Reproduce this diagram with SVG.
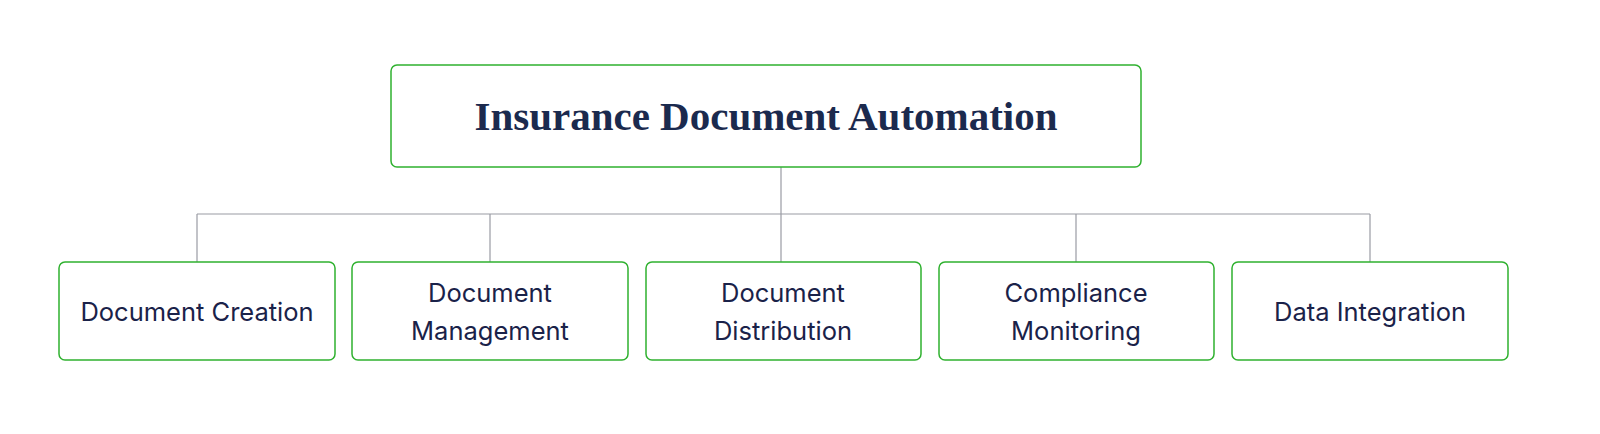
<svg xmlns="http://www.w3.org/2000/svg" width="1600" height="434" viewBox="0 0 1600 434">
<style>
.box{fill:#fff;stroke:#2fb12f;stroke-width:1.5}
.t{font-family:Inter,"Noto Sans",sans-serif;font-size:25.5px;fill:#1a2249;text-anchor:middle}
.title{font-family:"Liberation Serif",serif;font-weight:bold;font-size:41px;fill:#1b2a4e;text-anchor:middle}
.c{stroke:#9a9ca4;stroke-width:1.2;fill:none}
</style>
<rect width="1600" height="434" fill="#fff"/>
<g id="connectors">
<path class="c" d="M781 167V262M197 214H1370M197 214V262M490 214V262M1076 214V262M1370 214V262"/>
</g>
<g id="root"><rect class="box" x="391" y="65" width="750" height="102" rx="6"/><text class="title" x="766" y="130">Insurance Document Automation</text></g>
<g id="n1"><rect class="box" x="59" y="262" width="276" height="98" rx="6"/><text class="t" x="197" y="321">Document Creation</text></g>
<g id="n2"><rect class="box" x="352" y="262" width="276" height="98" rx="6"/><text class="t" x="490" y="302">Document</text><text class="t" x="490" y="340">Management</text></g>
<g id="n3"><rect class="box" x="646" y="262" width="275" height="98" rx="6"/><text class="t" x="783" y="302">Document</text><text class="t" x="783" y="340">Distribution</text></g>
<g id="n4"><rect class="box" x="939" y="262" width="275" height="98" rx="6"/><text class="t" x="1076" y="302">Compliance</text><text class="t" x="1076" y="340">Monitoring</text></g>
<g id="n5"><rect class="box" x="1232" y="262" width="276" height="98" rx="6"/><text class="t" x="1370" y="321">Data Integration</text></g>
</svg>
